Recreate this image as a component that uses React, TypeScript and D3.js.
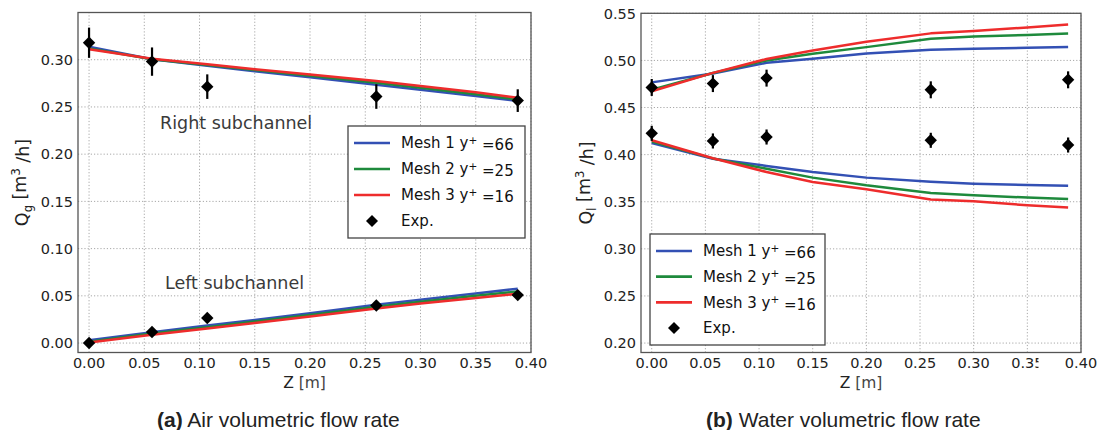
import React from "react";
import * as d3 from "d3";

// ---------- data ----------
const Z_SIM = [0, 0.057, 0.107, 0.15, 0.2, 0.26, 0.3, 0.35, 0.388];
const Z_EXP = [0, 0.057, 0.107, 0.26, 0.388];

// (a) air, right subchannel
const AIR_R_M1 = [0.3138, 0.3004, 0.2935, 0.2878, 0.2815, 0.2735, 0.2682, 0.2615, 0.2563];
const AIR_R_M2 = [0.312, 0.3006, 0.2943, 0.289, 0.283, 0.2755, 0.2703, 0.2635, 0.258];
const AIR_R_M3 = [0.311, 0.301, 0.2952, 0.29, 0.2843, 0.2775, 0.2722, 0.2655, 0.2598];
// (a) air, left subchannel
const AIR_L_M1 = [0.003, 0.0115, 0.0185, 0.0245, 0.0315, 0.0405, 0.0458, 0.0525, 0.0575];
const AIR_L_M2 = [0.0015, 0.01, 0.0168, 0.0228, 0.0298, 0.0385, 0.0438, 0.05, 0.0547];
const AIR_L_M3 = [0.0005, 0.0088, 0.0155, 0.0213, 0.0282, 0.0365, 0.0418, 0.0478, 0.0522];
const AIR_R_EXP = [0.318, 0.298, 0.2715, 0.261, 0.2567];
const AIR_R_ERR = [0.016, 0.015, 0.013, 0.013, 0.012];
const AIR_L_EXP = [0.0, 0.0117, 0.0265, 0.0398, 0.0508];
const AIR_L_ERR = [0.002, 0.002, 0.002, 0.002, 0.002];

// (b) water, upper branch
const WAT_U_M1 = [0.4767, 0.486, 0.4975, 0.5018, 0.5073, 0.5112, 0.5123, 0.5135, 0.5142];
const WAT_U_M2 = [0.469, 0.4866, 0.5, 0.507, 0.5141, 0.523, 0.5253, 0.527, 0.5285];
const WAT_U_M3 = [0.4672, 0.4868, 0.5015, 0.5106, 0.5197, 0.5287, 0.5313, 0.535, 0.538];
// (b) water, lower branch
const WAT_D_M1 = [0.4123, 0.3957, 0.388, 0.3816, 0.3756, 0.3712, 0.3692, 0.3678, 0.3671];
const WAT_D_M2 = [0.414, 0.396, 0.385, 0.3756, 0.3674, 0.3593, 0.3568, 0.3544, 0.353];
const WAT_D_M3 = [0.4152, 0.3962, 0.3815, 0.371, 0.3632, 0.3523, 0.3505, 0.3462, 0.3438];
const WAT_U_EXP = [0.4713, 0.4754, 0.4812, 0.4688, 0.4794];
const WAT_U_ERR = [0.009, 0.009, 0.009, 0.009, 0.009];
const WAT_D_EXP = [0.4226, 0.4145, 0.4187, 0.4152, 0.4102];
const WAT_D_ERR = [0.008, 0.008, 0.008, 0.008, 0.008];

const X_TICKS = [0, 0.05, 0.1, 0.15, 0.2, 0.25, 0.3, 0.35, 0.4];
const Y_TICKS_A = [0, 0.05, 0.1, 0.15, 0.2, 0.25, 0.3];
const Y_TICKS_B = [0.2, 0.25, 0.3, 0.35, 0.4, 0.45, 0.5, 0.55];

const LEGEND_MESH = ["1", "2", "3"];
const LEGEND_YPLUS = ["66", "25", "16"];

const COLORS = ["#3350b4", "#1e8a3c", "#ee2c2c"];
const TICK_FONT = "'DejaVu Sans', sans-serif";

const diamondPath = (r: number) => `M0,${-r}L${r},0L0,${r}L${-r},0Z`;

function Legend({ x0, x1, y0, y1 }: { x0: number; x1: number; y0: number; y1: number }) {
  const rowH = (y1 - y0 - 34) / 3;
  const rows = [0, 1, 2, 3].map((i) => y0 + 17 + i * rowH);
  return (
    <g>
      <rect x={x0} y={y0} width={x1 - x0} height={y1 - y0} fill="#fff" stroke="#444" strokeWidth={1.3} />
      {LEGEND_MESH.map((m, i) => (
        <g key={m}>
          <line x1={x0 + 6} x2={x0 + 42} y1={rows[i]} y2={rows[i]} stroke={COLORS[i]} strokeWidth={2.6} />
          <text x={x0 + 53} y={rows[i]} dy="0.36em" fontFamily={TICK_FONT} fontSize={15} fill="#111">
            {"Mesh " + m + " y"}
            <tspan dy="-0.45em" fontSize={10.5}>{"+"}</tspan>
            <tspan dy="0.45em">{" =" + LEGEND_YPLUS[i]}</tspan>
          </text>
        </g>
      ))}
      <path d={diamondPath(6)} transform={`translate(${x0 + 24},${rows[3]})`} fill="#000" />
      <text x={x0 + 53} y={rows[3]} dy="0.36em" fontFamily={TICK_FONT} fontSize={15} fill="#111">
        Exp.
      </text>
    </g>
  );
}

function Panel(props: {
  xr: [number, number];
  yr: [number, number];
  yDomain: [number, number];
  yTicks: number[];
  sims: number[][];
  exps: { ys: number[]; err: number[] }[];
  ylabelX: number;
  sub: string;
}) {
  const { xr, yr, yDomain, yTicks, sims, exps, ylabelX, sub } = props;
  const x = d3.scaleLinear().domain([-0.01, 0.4]).range(xr);
  const y = d3.scaleLinear().domain(yDomain).range(yr);
  const line = d3
    .line<number>()
    .x((_, i) => x(Z_SIM[i]))
    .y((d) => y(d));
  const fmt = d3.format(".2f");
  const diamond = diamondPath(6.2);
  return (
    <g>
      <rect x={xr[0]} y={yr[1]} width={xr[1] - xr[0]} height={yr[0] - yr[1]} fill="#fff" />
      {X_TICKS.map((t) => (
        <line key={"gx" + t} x1={x(t)} x2={x(t)} y1={yr[0]} y2={yr[1]} stroke="#a8a8a8" strokeWidth={1} strokeDasharray="1.2,2" />
      ))}
      {yTicks.map((t) => (
        <line key={"gy" + t} x1={xr[0]} x2={xr[1]} y1={y(t)} y2={y(t)} stroke="#a8a8a8" strokeWidth={1} strokeDasharray="1.2,2" />
      ))}
      {sims.map((s, i) => (
        <path key={"s" + i} d={line(s) as string} fill="none" stroke={COLORS[i % 3]} strokeWidth={2.5} strokeLinejoin="round" />
      ))}
      {exps.map((e, k) => (
        <g key={"e" + k}>
          {e.ys.map((v, i) => (
            <g key={i}>
              <line x1={x(Z_EXP[i])} x2={x(Z_EXP[i])} y1={y(v - e.err[i])} y2={y(v + e.err[i])} stroke="#000" strokeWidth={2.2} />
              <path d={diamond} transform={`translate(${x(Z_EXP[i])},${y(v)})`} fill="#000" />
            </g>
          ))}
        </g>
      ))}
      <rect x={xr[0]} y={yr[1]} width={xr[1] - xr[0]} height={yr[0] - yr[1]} fill="none" stroke="#555" strokeWidth={1.3} />
      {X_TICKS.map((t) => (
        <text key={"tx" + t} x={x(t)} y={yr[0] + 15.5} textAnchor="middle" fontFamily={TICK_FONT} fontSize={14.5} fill="#222">
          {fmt(t)}
        </text>
      ))}
      {yTicks.map((t) => (
        <text key={"ty" + t} x={xr[0] - 5} y={y(t)} dy="0.36em" textAnchor="end" fontFamily={TICK_FONT} fontSize={14.5} fill="#222">
          {fmt(t)}
        </text>
      ))}
      <text x={(xr[0] + xr[1]) / 2} y={388} textAnchor="middle" fontFamily={TICK_FONT} fontSize={15.5} fill="#222">
        Z <tspan fill="#444">[m]</tspan>
      </text>
      <text
        transform={`translate(${ylabelX},${(yr[0] + yr[1]) / 2}) rotate(-90)`}
        textAnchor="middle"
        dy="0.36em"
        fontFamily={TICK_FONT}
        fontSize={17.5}
        fill="#222"
      >
        Q<tspan dy="0.35em" fontSize={11.5}>{sub}</tspan>
        <tspan dy="-0.35em">{" [m"}</tspan>
        <tspan dy="-0.5em" fontSize={11.5}>3</tspan>
        <tspan dy="0.5em">{" /h]"}</tspan>
      </text>
    </g>
  );
}

export default function App() {
  return (
    <svg
      width={1100}
      height={430}
      style={{ position: "absolute", left: 0, top: 0, display: "block", background: "#fff" }}
    >
      <rect width={1100} height={430} fill="#fff" />
      <Panel
        xr={[78, 531]}
        yr={[352.5, 12.5]}
        yDomain={[-0.01, 0.35]}
        yTicks={Y_TICKS_A}
        sims={[AIR_R_M1, AIR_R_M2, AIR_R_M3, AIR_L_M1, AIR_L_M2, AIR_L_M3]}
        exps={[
          { ys: AIR_R_EXP, err: AIR_R_ERR },
          { ys: AIR_L_EXP, err: AIR_L_ERR },
        ]}
        ylabelX={22}
        sub="g"
      />
      <text x={160} y={123} dy="0.36em" fontFamily={TICK_FONT} fontSize={17.5} fill="#3a3a3a">
        Right subchannel
      </text>
      <text x={165} y={283} dy="0.36em" fontFamily={TICK_FONT} fontSize={17.5} fill="#3a3a3a">
        Left subchannel
      </text>
      <Legend x0={348} x1={525} y0={126} y1={238} />

      <Panel
        xr={[641, 1081]}
        yr={[352.5, 13.3]}
        yDomain={[0.19, 0.55]}
        yTicks={Y_TICKS_B}
        sims={[WAT_U_M1, WAT_U_M2, WAT_U_M3, WAT_D_M1, WAT_D_M2, WAT_D_M3]}
        exps={[
          { ys: WAT_U_EXP, err: WAT_U_ERR },
          { ys: WAT_D_EXP, err: WAT_D_ERR },
        ]}
        ylabelX={586}
        sub="l"
      />
      <Legend x0={650} x1={825} y0={234} y1={345} />
      <rect x={1038.5} y={355} width={22} height={16} fill="#fff" />

      <text x={157} y={427} fontFamily="'Liberation Sans', Arial, sans-serif" fontSize={21} fill="#222">
        <tspan fontWeight="bold">(a)</tspan> Air volumetric flow rate
      </text>
      <text x={706} y={427} fontFamily="'Liberation Sans', Arial, sans-serif" fontSize={21} fill="#222">
        <tspan fontWeight="bold">(b)</tspan> Water volumetric flow rate
      </text>
    </svg>
  );
}
